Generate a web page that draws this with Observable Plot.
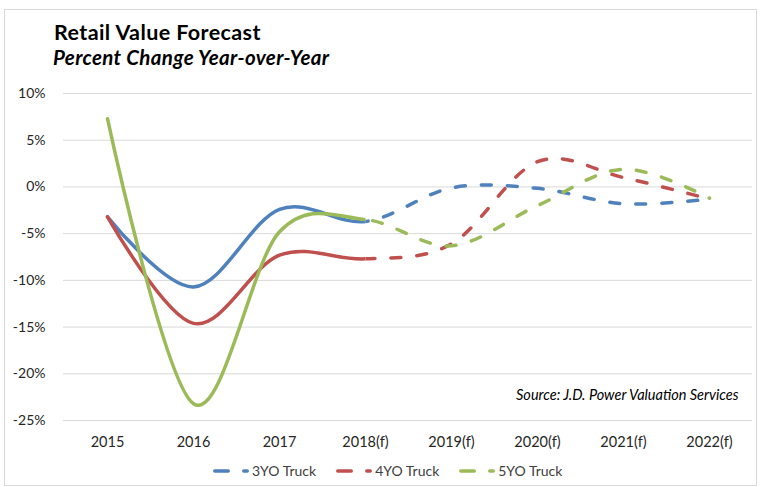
<!DOCTYPE html>
<html>
<head>
<meta charset="utf-8">
<script src="https://cdn.jsdelivr.net/npm/d3@7"></script>
<script src="https://cdn.jsdelivr.net/npm/@observablehq/plot@0.6"></script>
<style>
  body { margin:0; background:#fff; font-family: Lato, "Open Sans", sans-serif; }
  #frame { position:absolute; left:4px; top:9px; width:753px; height:477px; border:1px solid #d9d9d9; box-sizing:border-box; }
  #title { position:absolute; left:54px; top:19.3px; font-size:21.5px; letter-spacing:0.4px; font-weight:bold; color:#000; white-space:nowrap; }
  #subtitle { position:absolute; left:53px; top:45.1px; font-size:20.5px; letter-spacing:0.35px; font-weight:bold; font-style:italic; color:#000; white-space:nowrap; }
  #chart { position:absolute; left:0; top:78px; }
  #legend { position:absolute; left:213px; top:462px; display:flex; gap:20px; font-size:14px; color:#404040; white-space:nowrap; }
  .item { display:flex; align-items:center; }
</style>
</head>
<body>
<div id="frame"></div>
<div id="title">Retail Value Forecast</div>
<div id="subtitle">Percent Change Year-over-Year</div>
<div id="chart"></div>
<div id="legend"></div>
<script>
const years = ["2015","2016","2017","2018(f)","2019(f)","2020(f)","2021(f)","2022(f)"];
const truck3 = [-3.2, -10.7, -2.4, -3.7, -0.1, -0.15, -1.8, -1.3];
const truck4 = [-3.2, -14.6, -7.3, -7.7, -6.1, 2.7, 1.0, -1.3];
const truck5 = [7.3, -23.2, -4.8, -3.5, -6.3, -2.0, 1.9, -1.2];
const seriesNames = ["3YO Truck","4YO Truck","5YO Truck"];
const seriesColors = ["#4f81bd","#c0504d","#9bbb59"];
const lastActual = "2018(f)";
const sourceText = "Source: J.D. Power Valuation Services";

const seriesValues = [truck3, truck4, truck5];
const rows = seriesNames.flatMap((s, i) => seriesValues[i].map((v, j) => ({series: s, year: years[j], value: v})));

const plot = Plot.plot({
  width: 762, height: 378,
  marginLeft: 63, marginRight: 10, marginTop: 15, marginBottom: 36,
  style: {fontFamily: "Lato, sans-serif", fontSize: "14px", color: "#262626", background: "transparent"},
  x: {type: "point", domain: years, padding: 0.5, label: null, tickSize: 0, tickPadding: 16},
  y: {domain: [-25, 10], ticks: 8, tickFormat: d => d + "%", label: null, tickSize: 0, tickPadding: 18},
  color: {domain: seriesNames, range: seriesColors},
  marks: [
    Plot.gridY({stroke: "#d9d9d9", strokeOpacity: 1, ticks: 8}),
    Plot.line(rows, {x: "year", y: "value", z: "series", stroke: "series", strokeWidth: 3.5, curve: "cardinal", strokeLinecap: "round"}),
    Plot.line(rows, {x: "year", y: "value", z: "series", stroke: "series", strokeWidth: 3.5, curve: "cardinal", strokeLinecap: "round", strokeDasharray: "10,16"}),
    Plot.text([sourceText], {frameAnchor: "bottom-right", textAnchor: "end", lineAnchor: "middle", dx: -14, dy: -25, fontStyle: "italic", fontSize: 14.5, fill: "#000"})
  ]
});

// solid for actual values (up to lastActual), dashed for forecast
const xs = plot.scale("x");
const cut = xs.apply(lastActual);
const svg = d3.select(plot);
svg.selectAll('g[aria-label="x-axis tick label"] text').attr("font-size", "14.5px");
const defs = svg.insert("defs", ":first-child");
defs.append("clipPath").attr("id", "clipSolid").append("rect").attr("x", 0).attr("y", 0).attr("width", cut).attr("height", 378);
defs.append("clipPath").attr("id", "clipDash").append("rect").attr("x", cut).attr("y", 0).attr("width", 762 - cut).attr("height", 378);
const lineGroups = svg.selectAll('g[aria-label="line"]').nodes();
d3.select(lineGroups[0]).attr("clip-path", "url(#clipSolid)");
d3.select(lineGroups[1]).attr("clip-path", "url(#clipDash)");
document.getElementById("chart").appendChild(plot);

// legend
const legend = d3.select("#legend");
seriesNames.forEach((name, i) => {
  const item = legend.append("div").attr("class", "item");
  const sw = item.append("svg").attr("width", 39).attr("height", 12);
  sw.append("line").attr("x1", 1.75).attr("x2", 15.25).attr("y1", 6).attr("y2", 6)
    .attr("stroke", seriesColors[i]).attr("stroke-width", 3.5).attr("stroke-linecap", "round");
  sw.append("line").attr("x1", 30.75).attr("x2", 34.25).attr("y1", 6).attr("y2", 6)
    .attr("stroke", seriesColors[i]).attr("stroke-width", 3.5).attr("stroke-linecap", "round");
  item.append("span").text(name);
});
</script>
</body>
</html>
